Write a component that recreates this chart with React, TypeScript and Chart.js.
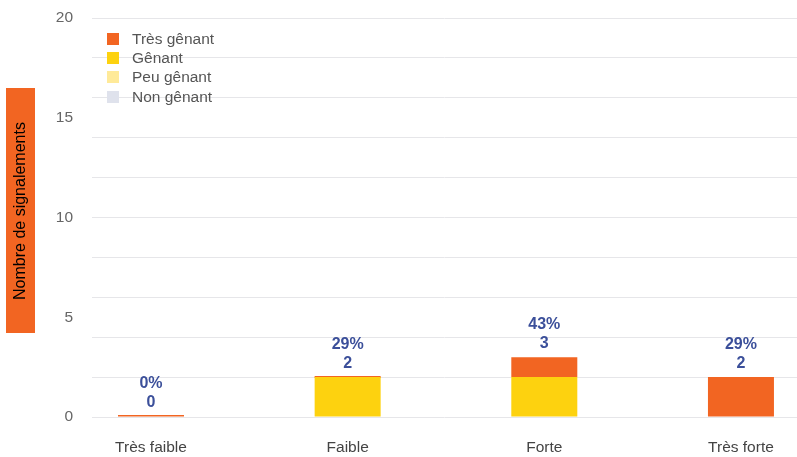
import React, { useEffect, useRef } from "react";
import { Chart, registerables } from "chart.js";

Chart.register(...registerables);

const categories = ["Très faible", "Faible", "Forte", "Très forte"];
const seriesNames = ["Très gênant", "Gênant", "Peu gênant", "Non gênant"];
const seriesColors = ["#f26522", "#fdd20f", "#ffea99", "#dfe2ec"];
const tresGenant = [0, 0, 1, 2];
const genant = [0, 2, 2, 0];
const peuGenant = [0, 0, 0, 0];
const nonGenant = [0, 0, 0, 0];
const yTicks = [0, 5, 10, 15, 20];

const FONT = "'Liberation Sans', Arial, Helvetica, sans-serif";

export default function App() {
  const ref = useRef<HTMLCanvasElement | null>(null);

  useEffect(() => {
    const canvas = ref.current;
    if (!canvas) return;
    const totals = categories.map(
      (_, i) => tresGenant[i] + genant[i] + peuGenant[i] + nonGenant[i]
    );
    const sum = totals.reduce((a, b) => a + b, 0);

    const mk = (label: string, data: number[], color: string, minLen = 0) => ({
      label,
      data: data.map((v, i) => ({ x: i, y: v })),
      backgroundColor: color,
      borderWidth: 0,
      inflateAmount: 0,
      barThickness: 66,
      minBarLength: minLen,
    });

    const labelPlugin = {
      id: "labels",
      afterDatasetsDraw(chart: any) {
        const ctx = chart.ctx;
        const xs = chart.scales.x;
        const ys = chart.scales.y;
        ctx.save();
        ctx.fillStyle = "#3b4f9a";
        ctx.font = `bold 16px ${FONT}`;
        ctx.textAlign = "center";
        ctx.textBaseline = "middle";
        totals.forEach((t, i) => {
          const x = xs.getPixelForValue(i);
          const top = ys.getPixelForValue(t);
          const pct = sum ? Math.round((t / sum) * 100) : 0;
          ctx.fillText(String(t), x, top - 14);
          ctx.fillText(pct + "%", x, top - 33);
        });
        ctx.restore();
      },
    };

    const titlePlugin = {
      id: "ytitle",
      beforeDraw(chart: any) {
        const ctx = chart.ctx;
        ctx.save();
        ctx.fillStyle = "#f26522";
        ctx.fillRect(6, 88, 29, 245);
        ctx.translate(21, 211);
        ctx.rotate(-Math.PI / 2);
        ctx.fillStyle = "#000";
        ctx.font = `16px ${FONT}`;
        ctx.textAlign = "center";
        ctx.textBaseline = "middle";
        ctx.fillText("Nombre de signalements", 0, 0);
        ctx.restore();
      },
    };

    const chart = new Chart(canvas, {
      type: "bar",
      data: {
        datasets: [
          mk(seriesNames[3], nonGenant, seriesColors[3]),
          mk(seriesNames[2], peuGenant, seriesColors[2]),
          mk(seriesNames[1], genant, seriesColors[1]),
          mk(seriesNames[0], tresGenant, seriesColors[0], 2),
        ] as any,
      },
      options: {
        animation: false,
        responsive: false,
        maintainAspectRatio: false,
        layout: { padding: { top: 18, left: 0, right: 0, bottom: 0 } },
        plugins: { legend: { display: false }, tooltip: { enabled: false } },
        scales: {
          x: {
            type: "linear",
            stacked: true,
            offset: false,
            bounds: "ticks",
            min: -0.3,
            max: 3.285,
            afterBuildTicks: (s: any) => {
              s.ticks = categories.map((_, i) => ({ value: i }));
            },
            afterFit: (s: any) => {
              s.height = 40;
              s.paddingLeft = 0;
              s.paddingRight = 0;
            },
            ticks: {
              autoSkip: false,
              maxRotation: 0,
              padding: 21,
              color: "#444",
              font: { family: FONT, size: 15.5 },
              callback: (v: any) => categories[Math.round(Number(v))] ?? "",
            },
            grid: { display: false, drawTicks: false, offset: false },
            border: { display: false },
          },
          y: {
            stacked: true,
            min: 0,
            max: 20,
            afterBuildTicks: (s: any) => {
              const t = [];
              for (let v = 0; v <= 20; v++) t.push({ value: v });
              s.ticks = t;
            },
            afterFit: (s: any) => {
              s.width = 92;
              s.paddingTop = 0;
              s.paddingBottom = 0;
            },
            ticks: {
              autoSkip: false,
              padding: 19,
              color: "#666",
              font: { family: FONT, size: 15.5 },
              callback: (v: any) => (yTicks.includes(Number(v)) ? String(v) : ""),
            },
            grid: {
              drawTicks: false,
              lineWidth: 1,
              color: (c: any) =>
                c.tick && c.tick.value % 2 === 0 ? "#e6e6e9" : "rgba(0,0,0,0)",
            },
            border: { display: false },
          },
        },
      } as any,
      plugins: [labelPlugin, titlePlugin],
    });
    return () => chart.destroy();
  }, []);

  const legendTop = [39, 58, 77, 97];

  return (
    <div style={{ position: "absolute", left: 0, top: 0, width: 797, height: 457, background: "#fff" }}>
      <canvas ref={ref} width={797} height={457} style={{ display: "block" }} />
      {seriesNames.map((n, i) => (
        <div
          key={n}
          style={{
            position: "absolute",
            left: 107,
            top: legendTop[i] - 10,
            height: 20,
            display: "flex",
            alignItems: "center",
            fontFamily: FONT,
            fontSize: 15.5,
            color: "#555",
            whiteSpace: "nowrap",
          }}
        >
          <span style={{ display: "inline-block", width: 12, height: 12, background: seriesColors[i], marginRight: 13 }} />
          {n}
        </div>
      ))}
    </div>
  );
}
